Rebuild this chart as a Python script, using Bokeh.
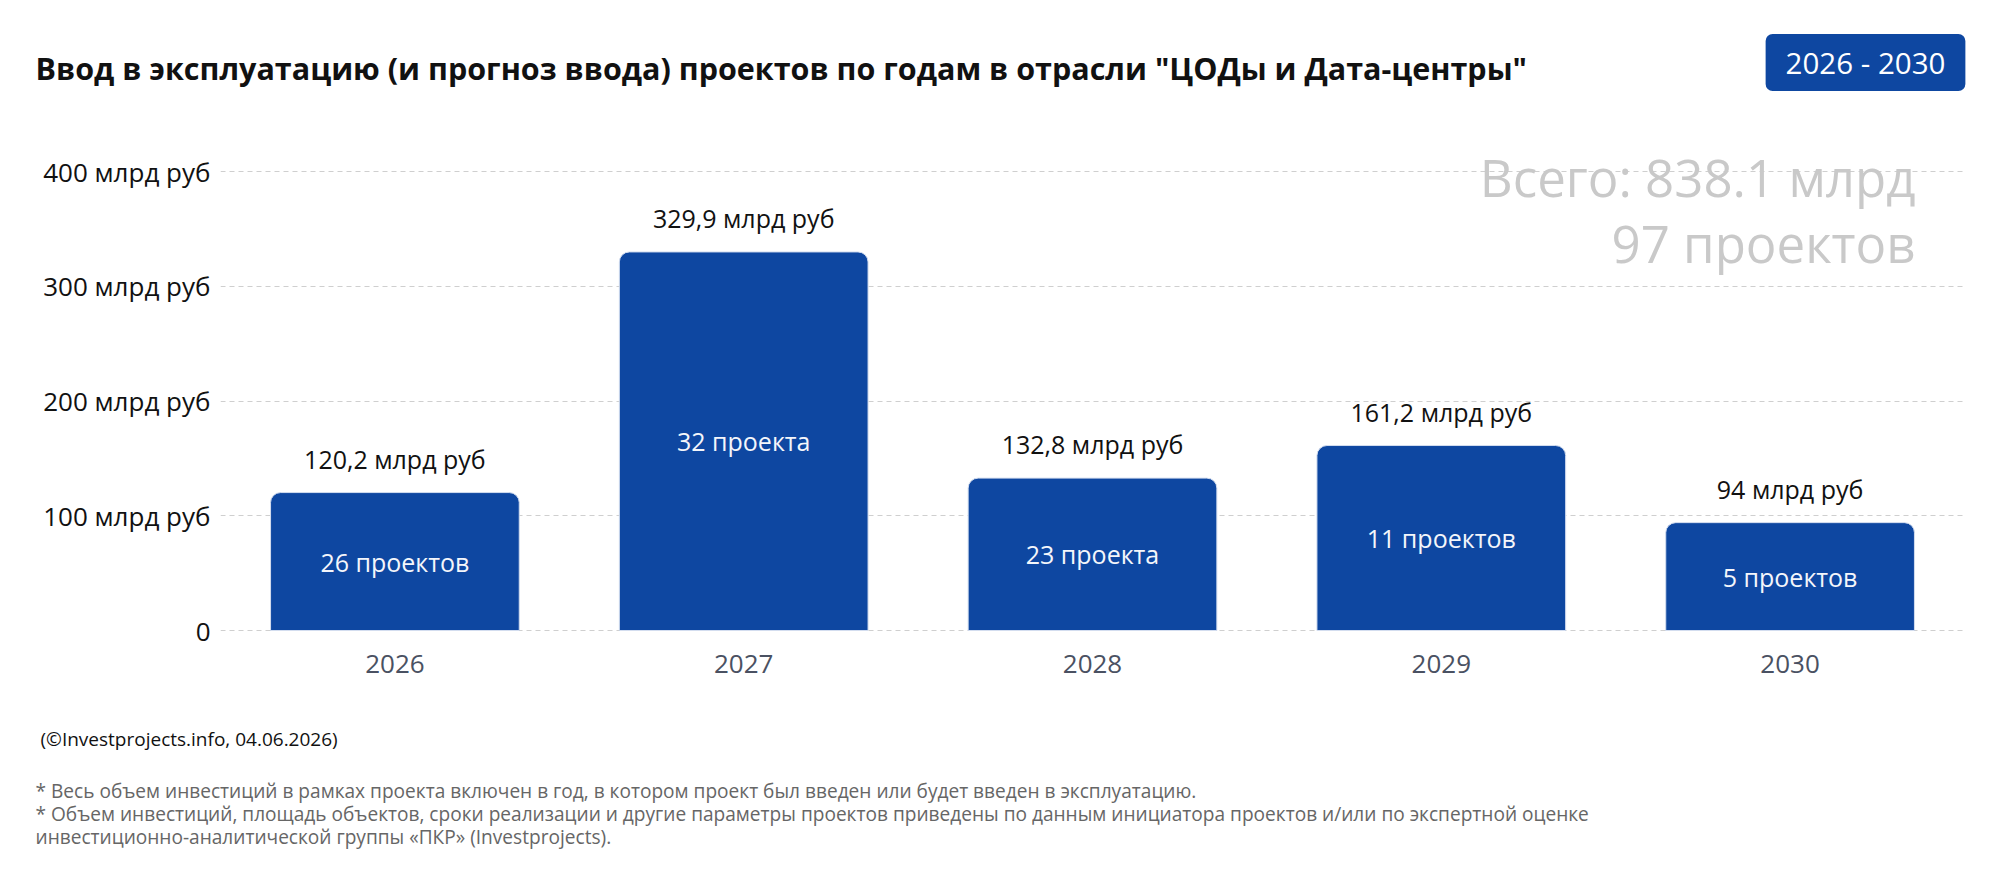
from bokeh.plotting import figure
from bokeh.layouts import column
from bokeh.models import FactorRange, Range1d, FixedTicker, Label, ColumnDataSource
from bokeh.core.properties import value
from bokeh.embed import file_html
from bokeh.resources import INLINE

# ---------------- data ----------------
years = ["2026", "2027", "2028", "2029", "2030"]
invest = [120.2, 329.9, 132.8, 161.2, 94.0]
invest_labels = ["120,2 млрд руб", "329,9 млрд руб", "132,8 млрд руб", "161,2 млрд руб", "94 млрд руб"]
project_labels = ["26 проектов", "32 проекта", "23 проекта", "11 проектов", "5 проектов"]
y_ticks = [0, 100, 200, 300, 400]
y_tick_labels = ["0", "100 млрд руб", "200 млрд руб", "300 млрд руб", "400 млрд руб"]
title_text = 'Ввод в эксплуатацию (и прогноз ввода) проектов по годам в отрасли "ЦОДы и Дата-центры"'
period_text = "2026 - 2030"
total_lines = ["Всего: 838.1 млрд", "97 проектов"]
source_text = "(©Investprojects.info, 04.06.2026)"
notes = [
    "* Весь объем инвестиций в рамках проекта включен в год, в котором проект был введен или будет введен в эксплуатацию.",
    "* Объем инвестиций, площадь объектов, сроки реализации и другие параметры проектов приведены по данным инициатора проектов и/или по экспертной оценке",
    "инвестиционно-аналитической группы «ПКР» (Investprojects).",
]

# ---------------- style ----------------
W, H = 2000, 879
FONT = "Open Sans"
BLUE = "#0E47A1"
HEAD_H = 110           # header strip height
MAIN_BOTTOM = 700      # canvas y where chart figure ends
LEFT, RIGHT = 220, 36
FRAME_BOTTOM = 631


def blank(height, y0, y1):
    f = figure(width=W, height=height, x_range=Range1d(0, W), y_range=Range1d(y1, y0),
               x_axis_type=None, y_axis_type=None, output_backend="svg",
               toolbar_location=None, min_border=0, frame_align=False)
    f.outline_line_color = None
    f.grid.visible = False
    f.background_fill_color = "white"
    f.border_fill_color = "white"
    return f


# ---------------- header ----------------
head = blank(HEAD_H, 0, HEAD_H)
head.add_layout(Label(x=35, y=67, text=title_text, text_font=FONT, text_font_size="30.5px",
                      text_font_style="bold", text_color="#111111",
                      text_baseline="middle", text_align="left"))
head.add_layout(Label(x=1865, y=62, text=period_text, text_font=FONT, text_font_size="29.5px",
                      text_color="white", text_baseline="middle", text_align="center",
                      background_fill_color=BLUE, border_radius=7, padding=(20, 20, 8, 8)))

# ---------------- main chart ----------------
src = ColumnDataSource(dict(
    year=years,
    invest=invest,
    half=[v / 2 for v in invest],
    invest_label=invest_labels,
    project_label=project_labels,
))

p = figure(
    width=W, height=MAIN_BOTTOM - HEAD_H,
    x_range=FactorRange(*years, range_padding=0, factor_padding=0),
    y_range=Range1d(-0.87, 453.16),
    output_backend="svg", toolbar_location=None,
    min_border_left=LEFT, min_border_right=RIGHT,
    min_border_top=0, min_border_bottom=MAIN_BOTTOM - FRAME_BOTTOM,
    frame_align=False,
)
p.outline_line_color = None
p.background_fill_color = "white"
p.border_fill_color = "white"

p.xgrid.visible = False
p.ygrid.ticker = FixedTicker(ticks=y_ticks)
p.ygrid.grid_line_color = "#cfcfcf"
p.ygrid.grid_line_dash = "5 4"
p.ygrid.grid_line_width = 1

p.yaxis.ticker = FixedTicker(ticks=y_ticks)
p.yaxis.major_label_overrides = {t: l for t, l in zip(y_ticks, y_tick_labels)}
p.yaxis.minor_tick_line_color = None
for ax in (p.xaxis[0], p.yaxis[0]):
    ax.axis_line_color = None
    ax.major_tick_line_color = None
    ax.major_tick_in = 0
    ax.major_tick_out = 0
    ax.major_label_text_font = FONT
    ax.major_label_text_font_size = "26px"
p.yaxis.major_label_text_color = "#111111"
p.yaxis.major_label_standoff = 10
p.xaxis.major_label_text_color = "#4a5162"
p.xaxis.major_label_standoff = 23

p.vbar(x="year", top="invest", width=0.713, source=src,
       fill_color=BLUE, line_color="#d3ddef", line_width=1,
       border_radius=(10, 10, 0, 0))

p.text(x="year", y="invest", text="invest_label", source=src,
       text_align="center", text_baseline="middle", y_offset=-34,
       text_font=value(FONT), text_font_size="25px", text_color="#111111")

p.text(x="year", y="half", text="project_label", source=src,
       text_align="center", text_baseline="middle",
       text_font=value(FONT), text_font_size="25px", text_color="#f4f6fb")

# totals (screen units relative to the frame bottom-left)
for cy, line in zip((176, 242), total_lines):
    p.add_layout(Label(x=1915 - LEFT, y=FRAME_BOTTOM - cy, x_units="screen", y_units="screen",
                       text=line, text_font=FONT, text_font_size="51px", text_color="#c9c9c9",
                       text_baseline="middle", text_align="right"))

# ---------------- footer ----------------
foot = blank(H - MAIN_BOTTOM, MAIN_BOTTOM, H)
foot.add_layout(Label(x=40, y=738, text=source_text, text_font=FONT, text_font_size="19px",
                      text_color="#111111", text_baseline="middle", text_align="left"))
for i, line in enumerate(notes):
    foot.add_layout(Label(x=35, y=790 + 23 * i, text=line, text_font=FONT, text_font_size="19.1px",
                          text_color="#666666", text_baseline="middle", text_align="left"))

layout = column(head, p, foot, spacing=0)
open("out.html", "w").write(file_html(layout, INLINE))
